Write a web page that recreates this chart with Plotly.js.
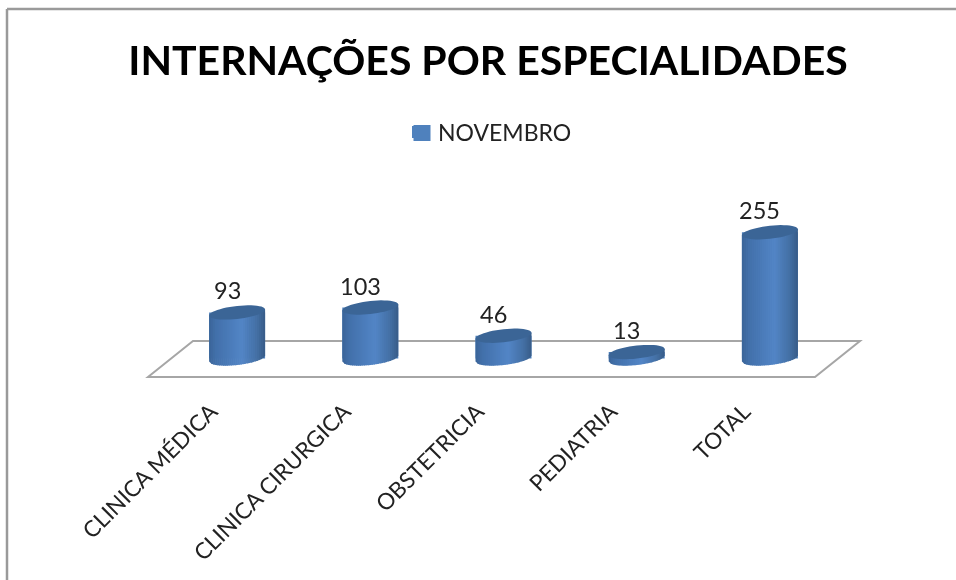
<!DOCTYPE html>
<html><head><meta charset="utf-8">
<script src="https://cdn.plot.ly/plotly-3.0.1.min.js"></script>
<style>html,body{margin:0;padding:0;background:#fff;overflow:hidden}#c{width:956px;height:580px;filter:blur(0.45px)}</style>
</head><body><div id="c"></div>
<script>
var categories = ["CLINICA MÉDICA","CLINICA CIRURGICA","OBSTETRICIA","PEDIATRIA","TOTAL"];
var novembro = [93,103,46,13,255];
var seriesName = "NOVEMBRO";
var chartTitle = "INTERNAÇÕES POR ESPECIALIDADES";

var W=956,H=580;
var firstPx=237.1,pxPerCat=133.2,zeroPx=358.5,pxPerUnit=0.495;
var barWidthPx=56, a=barWidthPx/2, b=6.5, s=3;
function dx(px){return px/pxPerCat;}
function dy(px){return px/pxPerUnit;}
function px2x(p){return p/W;}
function px2y(p){return 1-p/H;}

function lerp(c1,c2,t){return 'rgb('+c1.map(function(v,i){return Math.round(v+(c2[i]-v)*t);}).join(',')+')';}
var stops=[[0,[58,100,152]],[0.12,[66,112,170]],[0.58,[82,133,198]],[0.85,[68,112,165]],[1,[56,92,135]]];
function shade(t){for(var i=1;i<stops.length;i++){if(t<=stops[i][0]){return lerp(stops[i-1][1],stops[i][1],(t-stops[i-1][0])/(stops[i][0]-stops[i-1][0]));}}return 'rgb(56,92,135)';}

function lowerOff(p){var c=p/a; c=Math.max(-1,Math.min(1,c)); return s*c - b*Math.sqrt(1-c*c);}
var shapes=[];
function seg(x0,y0,x1,y1){shapes.push({type:'line',xref:'paper',yref:'paper',x0:px2x(x0),y0:px2y(y0),x1:px2x(x1),y1:px2y(y1),line:{color:'#9a9a9a',width:2.5},layer:'below'});}
seg(7,9,7,580); seg(7,9,956,9);
var fl=[[148,377],[193,341],[860,341],[815,377]];
shapes.push({type:'path',xref:'paper',yref:'paper',layer:'below',line:{color:'#a6a6a6',width:2},fillcolor:'rgba(255,255,255,0)',
 path:'M'+fl.map(function(p){return px2x(p[0])+','+px2y(p[1]);}).join(' L')+' Z'});
shapes.push({type:'rect',xref:'paper',yref:'paper',layer:'below',line:{width:0},fillcolor:'#4F81BD',x0:px2x(413.5),x1:px2x(430.5),y0:px2y(141),y1:px2y(125)});
var N=28;
novembro.forEach(function(v,i){
  for(var k=0;k<N;k++){
    var p0=-a+2*a*k/N, p1=-a+2*a*(k+1)/N, p1o=Math.min(a,p1+0.7);
    var pts=[[p0,v,s*p0/a],[p1o,v,s*p1o/a],[p1o,0,lowerOff(p1o)],[p0,0,lowerOff(p0)]];
    shapes.push({type:'path',xref:'x',yref:'y',layer:'above',line:{width:0},fillcolor:shade((k+0.5)/N),
      path:'M'+pts.map(function(q){return (i+dx(q[0]))+','+(q[1]+dy(q[2]));}).join(' L')+' Z'});
  }
  var cap=[];
  for(var t=0;t<=48;t++){var an=t/48*2*Math.PI; var c=Math.cos(an),sn=Math.sin(an);
    cap.push((i+dx(a*c))+','+(v+dy(s*c-b*sn)));}
  shapes.push({type:'path',xref:'x',yref:'y',layer:'above',line:{width:0},fillcolor:'#3b6596',path:'M'+cap.join(' L')+' Z'});
});

var annotations=novembro.map(function(v,i){return {x:i,y:v,xref:'x',yref:'y',text:String(v),showarrow:false,xshift:-10,yshift:22,xanchor:'center',yanchor:'middle',font:{family:'Lato',size:23.5,color:'#222'}};});

var trace={type:'bar',name:seriesName,x:categories.map(function(_,i){return i;}),y:novembro,width:barWidthPx/pxPerCat,marker:{color:'#4F81BD'},showlegend:true,hoverinfo:'x+y'};

var layout={width:W,height:H,autosize:false,paper_bgcolor:'#fff',plot_bgcolor:'rgba(0,0,0,0)',
 margin:{l:0,r:0,t:0,b:0,pad:0},
 title:{text:chartTitle,font:{family:'Lato',size:41,color:'#000',weight:700},x:488/W,xref:'container',xanchor:'center',y:1-61/H,yref:'container',yanchor:'middle'},
 showlegend:true,
 legend:{x:px2x(398),y:px2y(132),xanchor:'left',yanchor:'middle',bgcolor:'rgba(0,0,0,0)',font:{family:'Lato',size:23,color:'#222'}},
 xaxis:{range:[-firstPx/pxPerCat,(W-firstPx)/pxPerCat],tickmode:'array',tickvals:[0,1,2,3,4].map(function(i){return i-dx(26);}),ticktext:categories,tickangle:-45,ticks:'',showgrid:false,zeroline:false,showline:false,anchor:'free',position:px2y(393),automargin:false,fixedrange:true,tickfont:{family:'Lato',size:22.5,color:'#222'}},
 yaxis:{range:[(zeroPx-H)/pxPerUnit,zeroPx/pxPerUnit],visible:false,showgrid:false,zeroline:false,fixedrange:true},
 shapes:shapes,annotations:annotations};
Plotly.newPlot('c',[trace],layout,{displayModeBar:false,responsive:false});
</script></body></html>
